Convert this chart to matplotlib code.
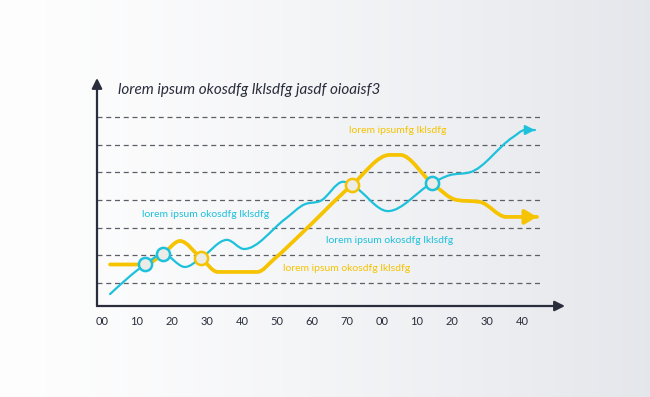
import numpy as np
import matplotlib.pyplot as plt
from matplotlib.path import Path
from matplotlib.patches import PathPatch

tick_labels = ["00", "10", "20", "30", "40", "50", "60", "70", "00", "10", "20", "30", "40"]
grid_levels = [1, 2, 3, 4, 5, 6, 7]

cyan_x = [0.23, 1.23, 1.74, 2.37, 2.83, 3.57, 4.06, 5.23, 5.80, 6.23, 6.89, 7.14, 8.17, 9.43, 9.94, 10.51, 11.74, 12.09, 12.37]
cyan_y = [0.60, 1.67, 2.05, 1.58, 1.90, 2.56, 2.23, 3.31, 3.85, 3.96, 4.66, 4.54, 3.60, 4.61, 4.90, 5.00, 6.27, 6.53, 6.53]

yellow_x = [0.23, 1.23, 1.74, 2.23, 2.83, 3.31, 4.43, 4.94, 5.66, 7.14, 8.22, 8.52, 9.43, 10.14, 10.80, 11.55, 12.43]
yellow_y = [1.67, 1.67, 2.05, 2.52, 1.90, 1.40, 1.40, 1.89, 2.74, 4.54, 5.63, 5.63, 4.61, 4.00, 3.93, 3.39, 3.39]

cyan_marks_x = [1.23, 1.74, 9.43]
cyan_marks_y = [1.67, 2.05, 4.61]
yellow_marks_x = [2.83, 7.14]
yellow_marks_y = [1.90, 4.54]

title = "lorem ipsum okosdfg lklsdfg jasdf oioaisf3"
labels = [
    ("lorem ipsumfg lklsdfg", 8.46, 6.53, "yellow"),
    ("lorem ipsum okosdfg lklsdfg", 2.97, 3.46, "cyan"),
    ("lorem ipsum okosdfg lklsdfg", 8.23, 2.52, "cyan"),
    ("lorem ipsum okosdfg lklsdfg", 7.0, 1.51, "yellow"),
]

CYAN = "#1dc1db"
YELLOW = "#f6c300"
DARK = "#2a2e3c"


def monotone_path(xs, ys):
    # cubic monotone-x curve, same idea as d3.curveMonotoneX
    xs = np.asarray(xs, float)
    ys = np.asarray(ys, float)
    h = np.diff(xs)
    s = np.diff(ys) / h
    n = len(xs)
    m = np.zeros(n)
    for i in range(1, n - 1):
        s0, s1 = s[i - 1], s[i]
        p = (s0 * h[i] + s1 * h[i - 1]) / (h[i - 1] + h[i])
        m[i] = (np.sign(s0) + np.sign(s1)) * min(abs(s0), abs(s1), 0.5 * abs(p))
    m[0] = (3 * s[0] - m[1]) / 2
    m[-1] = (3 * s[-1] - m[-2]) / 2
    verts = [(xs[0], ys[0])]
    codes = [Path.MOVETO]
    for i in range(n - 1):
        d = h[i] / 3
        verts += [(xs[i] + d, ys[i] + m[i] * d),
                  (xs[i + 1] - d, ys[i + 1] - m[i + 1] * d),
                  (xs[i + 1], ys[i + 1])]
        codes += [Path.CURVE4] * 3
    return Path(verts, codes)


fig = plt.figure(figsize=(6.5, 3.97), dpi=100)

# background gradient
bg = fig.add_axes([0, 0, 1, 1])
grad = np.linspace(0, 1, 256) ** 1.3
c0 = np.array([0.995, 0.995, 0.997])
c1 = np.array([0.895, 0.905, 0.922])
img = c0[None, :] * (1 - grad[:, None]) + c1[None, :] * grad[:, None]
bg.imshow(img[None, :, :], aspect="auto", extent=[0, 1, 0, 1])
bg.axis("off")

ax = fig.add_axes([97 / 650, (397 - 306) / 397, (565 - 97) / 650, (306 - 78) / 397])
ax.patch.set_alpha(0)
ax.set_xlim(-0.143, 13.23)
ax.set_ylim(0.17, 8.41)
for sp in ax.spines.values():
    sp.set_visible(False)

ax.hlines(grid_levels, -0.143, 12.6, colors="#5c5f66", linestyles=(0, (4, 3)), linewidth=0.9)

ax.add_patch(PathPatch(monotone_path(yellow_x, yellow_y), fill=False, edgecolor=YELLOW,
                       linewidth=2.7, capstyle="round", joinstyle="round", zorder=3))
ax.add_patch(PathPatch(monotone_path(cyan_x, cyan_y), fill=False, edgecolor=CYAN,
                       linewidth=1.6, capstyle="round", joinstyle="round", zorder=4))

ax.annotate("", xy=(yellow_x[-1], yellow_y[-1]), xytext=(yellow_x[-1] - 0.3, yellow_y[-1]),
            arrowprops=dict(arrowstyle="-|>,head_length=0.6,head_width=0.36", color=YELLOW,
                            lw=2.7, mutation_scale=12, shrinkA=0, shrinkB=0), zorder=3)
ax.annotate("", xy=(cyan_x[-1], cyan_y[-1]), xytext=(cyan_x[-1] - 0.3, cyan_y[-1]),
            arrowprops=dict(arrowstyle="-|>,head_length=0.55,head_width=0.28", color=CYAN,
                            lw=1.6, mutation_scale=10, shrinkA=0, shrinkB=0), zorder=4)

ax.plot(cyan_marks_x, cyan_marks_y, "o", ms=9.5, mfc="#ebebe7", mec=CYAN, mew=1.8, zorder=6)
ax.plot(yellow_marks_x, yellow_marks_y, "o", ms=9.5, mfc="#ebebe7", mec=YELLOW, mew=1.8, zorder=6)

# axes with arrow heads
ax.annotate("", xy=(0, 1), xytext=(0, 0), xycoords="axes fraction",
            arrowprops=dict(arrowstyle="-|>,head_length=0.6,head_width=0.3", color=DARK,
                            lw=1.6, mutation_scale=10, shrinkA=0, shrinkB=0))
ax.annotate("", xy=(1, 0), xytext=(0, 0), xycoords="axes fraction",
            arrowprops=dict(arrowstyle="-|>,head_length=0.6,head_width=0.3", color=DARK,
                            lw=1.6, mutation_scale=10, shrinkA=0, shrinkB=0))

ax.set_xticks(range(len(tick_labels)))
ax.set_xticklabels(tick_labels, fontsize=8, color=DARK, family="Lato")
ax.tick_params(axis="x", length=0, pad=7.5)
ax.set_yticks([])

ax.text(0.46, 7.98, title, fontsize=11, style="italic", color=DARK, family="Lato",
        ha="left", va="center")
for txt, x, y, col in labels:
    ax.text(x, y, txt, fontsize=7.5, color=CYAN if col == "cyan" else YELLOW, family="Lato",
            ha="center", va="center")

fig.savefig("out.png", dpi=100)
